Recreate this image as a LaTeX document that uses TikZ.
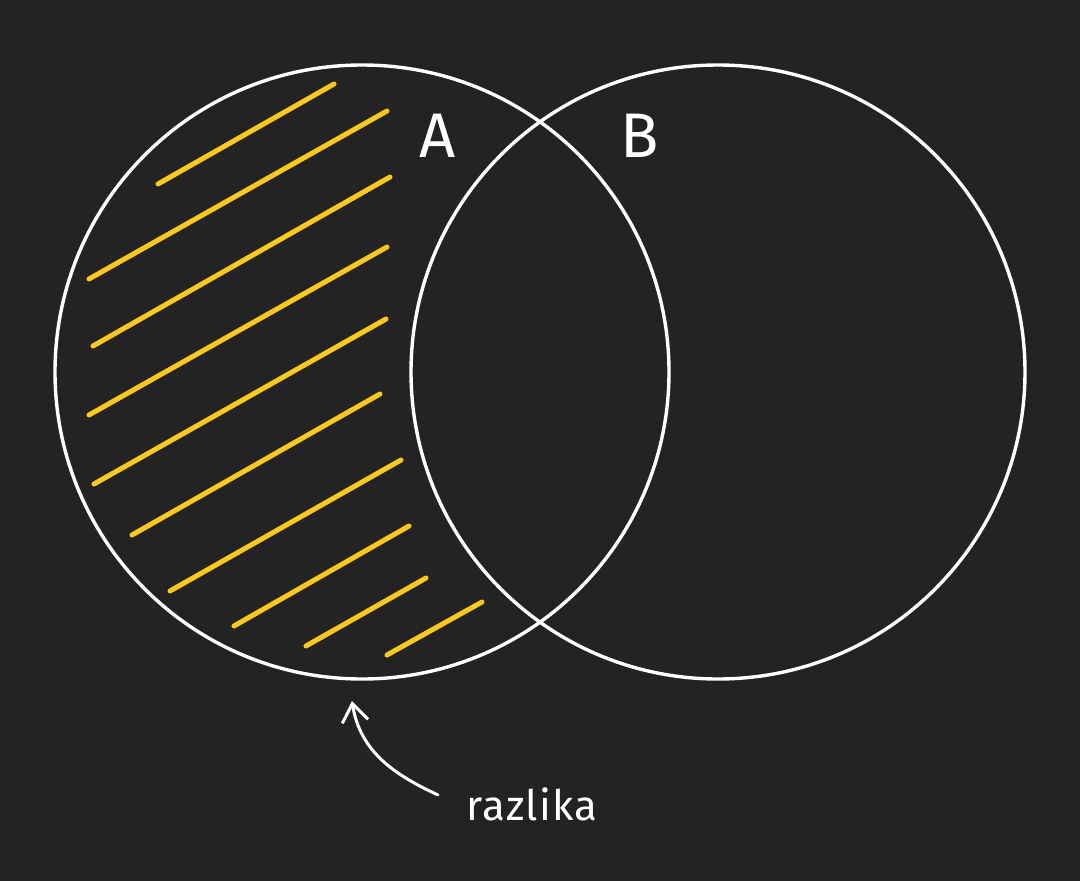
\documentclass[tikz,border=0pt]{standalone}
\usepackage{fontspec}
\setmainfont{Fira Sans}
\newfontfamily\notefont[LetterSpace=3]{Fira Sans}
\usetikzlibrary{arrows.meta}
\definecolor{bg}{HTML}{232323}
\definecolor{hatch}{HTML}{FFC919}
\tikzset{
  setcircle/.style={circle, draw=white, line width=3.4pt, minimum size=614pt, inner sep=0pt},
  hatchline/.style={draw=hatch, line width=5pt, line cap=round},
  setlabel/.style={text=white, inner sep=0pt, anchor=base west, font=\fontsize{63}{70}\selectfont},
  notelabel/.style={text=white, inner sep=0pt, anchor=base west, font=\notefont\fontsize{42}{46}\selectfont},
  pointer/.style={draw=white, line width=3pt, line cap=round, -{Straight Barb[length=18pt, width=26pt, line width=3pt]}}
}
\begin{document}
\begin{tikzpicture}[x=1pt, y=-1pt]
  \fill[bg] (0,0) rectangle (1080,881);
  \useasboundingbox (0,0) rectangle (1080,881);
  % hatch lines
  \draw[hatchline] (158,184) -- (334,84);
  \draw[hatchline] (89,279) -- (387,111);
  \draw[hatchline] (93,346) -- (390,177);
  \draw[hatchline] (89,415) -- (387,247);
  \draw[hatchline] (94,484) -- (386,319);
  \draw[hatchline] (132,535) -- (380,394);
  \draw[hatchline] (170,591) -- (401,460);
  \draw[hatchline] (234,626) -- (409,526);
  \draw[hatchline] (306,646) -- (426,578);
  \draw[hatchline] (387,655) -- (482,602);
  % circles
  \node[setcircle] (setA) at (362,372) {};
  \node[setcircle] (setB) at (718,372) {};
  % labels
  \node[setlabel] (labA) at (419,157) {A};
  \node[setlabel] (labB) at (620,157) {B};
  \node[notelabel] (note) at (466,820) {razlika};
  % arrow
  \coordinate (tail) at (438,795);
  \coordinate (tip) at (352,701);
  \draw[pointer] (tail) .. controls (395,775) and (360,752) .. (tip);
\end{tikzpicture}
\end{document}
